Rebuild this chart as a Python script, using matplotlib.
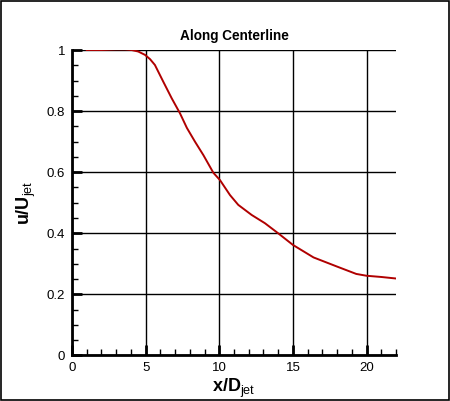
import matplotlib
matplotlib.use("Agg")
import matplotlib.pyplot as plt
from matplotlib.patches import Rectangle
from matplotlib.ticker import MultipleLocator

plt.rcParams['font.family'] = ['Liberation Sans', 'DejaVu Sans']
plt.rcParams['mathtext.fontset'] = 'custom'
plt.rcParams['mathtext.rm'] = 'Liberation Sans'
plt.rcParams['mathtext.bf'] = 'Liberation Sans:bold'

x_vals = [1.0, 2.0, 3.0, 3.6, 4.05, 4.5, 4.96, 5.3, 5.63, 6.2, 6.77, 7.33, 7.8, 8.35,
          8.92, 9.6, 10.05, 10.73, 11.29, 12.2, 13.1, 14.0, 15.0, 16.4, 18.0, 19.3,
          20.0, 21.0, 22.0]
u_vals = [1.0, 1.0, 1.002, 1.002, 1.0, 0.995, 0.984, 0.97, 0.951, 0.896, 0.842, 0.793,
          0.745, 0.70, 0.656, 0.598, 0.574, 0.525, 0.493, 0.46, 0.433, 0.40, 0.362,
          0.321, 0.291, 0.267, 0.261, 0.257, 0.252]

title = "Along Centerline"
xlabel = r"$\mathbf{x/D}_{\mathrm{jet}}$"
ylabel = r"$\mathbf{u/U}_{\mathrm{jet}}$"

fig = plt.figure(figsize=(4.5, 4.01), dpi=100)
ax = fig.add_axes([0.16, 0.1135, 0.72, 0.7618])
ax.plot(x_vals, u_vals, color='#b00000', lw=1.4)
ax.set_xlim(0, 22)
ax.set_ylim(0, 1)
ax.xaxis.set_major_locator(MultipleLocator(5))
ax.xaxis.set_minor_locator(MultipleLocator(1))
ax.yaxis.set_major_locator(MultipleLocator(0.2))
ax.yaxis.set_minor_locator(MultipleLocator(0.05))
ax.yaxis.set_major_formatter(plt.FuncFormatter(lambda v, p: f"{v:g}"))
ax.grid(True, which='major', color='black', lw=1.0)
for s in ['top', 'right']:
    ax.spines[s].set_visible(False)
for s in ['left', 'bottom']:
    ax.spines[s].set_linewidth(2.0)
ax.tick_params(which='major', direction='in', length=7, width=2, labelsize=9.5, pad=5)
ax.tick_params(which='minor', direction='in', length=4, width=1)
ax.set_title(title, fontsize=9.8, fontweight='bold', pad=7)
ax.set_xlabel(xlabel, fontsize=13, labelpad=2)
ax.set_ylabel(ylabel, fontsize=13, labelpad=6)

fig.patches.append(Rectangle((0.002, 0.002), 0.995, 0.995, transform=fig.transFigure,
                             fill=False, edgecolor='black', lw=1.2))
fig.savefig("out.png", dpi=100)
